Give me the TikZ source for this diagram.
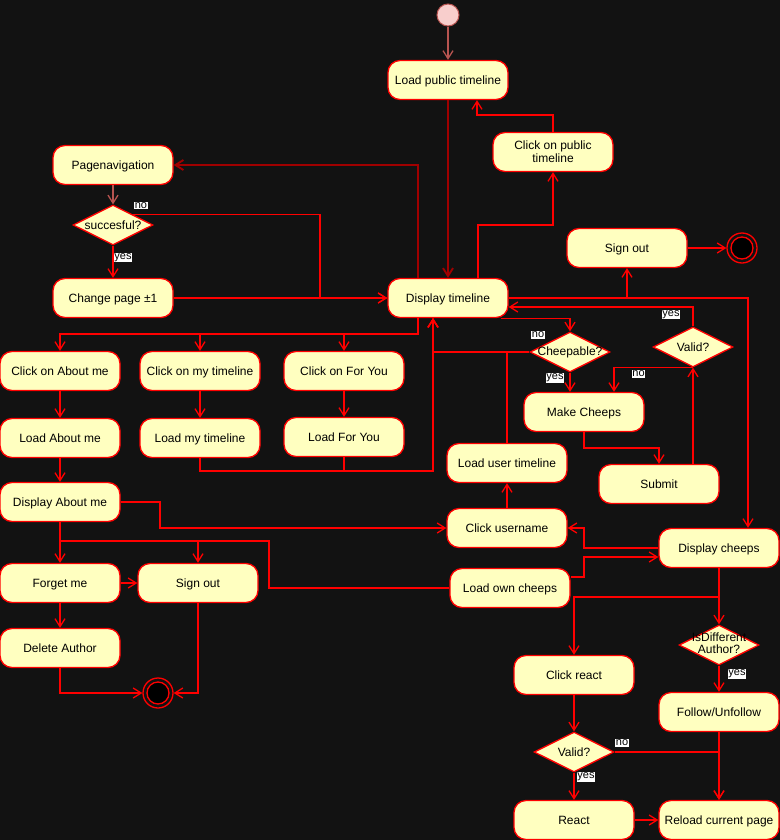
\documentclass[tikz,border=0pt]{standalone}
\usepackage{fontspec}
\setmainfont{Liberation Sans}
\usetikzlibrary{shapes.geometric,arrows.meta,calc}
\definecolor{bgc}{HTML}{121212}
\definecolor{nodefill}{HTML}{FFFFC0}
\definecolor{initfill}{HTML}{F8CECC}
\definecolor{initline}{HTML}{B85450}
\definecolor{darkline}{HTML}{A00000}
\tikzset{
  act/.style={draw=red, fill=nodefill, rounded corners=12bp, minimum width=120bp,
    minimum height=39bp, inner sep=2bp, font=\fontsize{12bp}{14bp}\selectfont,
    text=black, line width=1.3bp, align=center, text height=10bp, text depth=2bp},
  dec/.style={diamond, draw=red, fill=nodefill, minimum width=80bp, minimum height=40bp,
    inner sep=0pt, font=\fontsize{12bp}{14bp}\selectfont, text=black, line width=1.3bp},
  flow/.style={draw=red, line width=1.3bp, -{Straight Barb[length=8bp,width=10bp]}},
  flowd/.style={flow, draw=darkline, line width=1.9bp},
  flowb/.style={flow, draw=initline},
  plain/.style={draw=red, line width=1.3bp},
  lbl/.style={fill=white, text=black, inner sep=0.8bp, font=\fontsize{11bp}{12bp}\selectfont},
  finalnode/.style={circle, draw=red, line width=1.3bp, minimum size=30bp, inner sep=0pt},
  startnode/.style={circle, draw=initline, fill=initfill, line width=1bp, minimum size=22bp, inner sep=0pt}
}
\begin{document}
\begin{tikzpicture}[x=1bp,y=-1bp]
\useasboundingbox (0,0) rectangle (780,840);
\fill[bgc] (0,0) rectangle (780,840);

% nodes
\node[startnode] (init) at (448,15) {};
\node[act] (lpt) at (448,80) {Load public timeline};
\node[act, text height=, text depth=] (cpt) at (553,152) {\raisebox{0pt}[9bp][0bp]{Click on public}\\[-1bp]timeline};
\node[act] (pn) at (113,165) {Pagenavigation};
\node[dec] (succ) at (113,225) {\makebox[0pt]{succesful?}};
\node[act] (cp) at (113,298) {Change page ±1};
\node[act] (dt) at (448,298) {Display timeline};
\node[act] (so2) at (627,248) {Sign out};
\node[finalnode] (end2) at (742,248) {};
\node[act] (cam) at (60,371) {Click on About me};
\node[act] (cmt) at (200,371) {Click on my timeline};
\node[act] (cfy) at (344,371) {Click on For You};
\node[act] (lam) at (60,438) {Load About me};
\node[act] (lmt) at (200,438) {Load my timeline};
\node[act] (lfy) at (344,437) {Load For You};
\node[act] (dam) at (60,502) {Display About me};
\node[act] (fm) at (60,583) {Forget me};
\node[act] (so1) at (198,583) {Sign out};
\node[act] (da) at (60,648) {Delete Author};
\node[finalnode] (end1) at (158,693) {};
\node[dec] (ch) at (570,352) {\makebox[0pt]{Cheepable?}};
\node[dec] (v1) at (693,347) {\makebox[0pt]{Valid?}};
\node[act] (mc) at (584,412) {Make Cheeps};
\node[act] (sub) at (659,484) {Submit};
\node[act] (lut) at (507,463) {Load user timeline};
\node[act] (cu) at (507,528) {Click username};
\node[act] (dc) at (719,548) {Display cheeps};
\node[act] (loc) at (510,588) {Load own cheeps};
\node[dec] (isd) at (719,645) {\makebox[0pt]{\begin{tabular}{@{}c@{}}IsDifferent\\[-2bp]Author?\end{tabular}}};
\node[act] (cr) at (574,675) {Click react};
\node[act] (fu) at (719,712) {Follow/Unfollow};
\node[dec] (v2) at (574,752) {\makebox[0pt]{Valid?}};
\node[act] (re) at (574,820) {React};
\node[act] (rcp) at (719,820) {Reload current page};
\fill[black] (end1.center) circle (11bp);
\draw[red, line width=1.3bp] (end1.center) circle (11bp);
\fill[black] (end2.center) circle (11bp);
\draw[red, line width=1.3bp] (end2.center) circle (11bp);

% edges
\draw[flowb] (init) -- (lpt);
\draw[flowd] (lpt) -- (dt);
\draw[flow] (cpt.north) |- (477,115) -- (477,0 |- lpt.south);
\draw[flow] (478,0 |- dt.north) |- (553,225) -- (cpt.south);
\draw[flowd] (418,0 |- dt.north) |- (pn.east);
\draw[flowb] (pn) -- (succ);
\draw[flow] (succ) -- (cp);
\draw[flow] (succ.north east) -- (320,0 |- succ.north east) -- (320,0 |- dt.west) -- (dt.west);
\draw[flow] (cp) -- (dt);
\draw[flow] (dt.east) -- (627,0 |- dt.east) -- (so2.south);
\draw[flow] (dt.east) -- (748,0 |- dt.east) -- (748,0 |- dc.north);
\draw[flow] (so2) -- (end2);
\draw[flow] (v1.north) |- (dt.east |- 0,307);
\draw[flow] (v1.south) -- (614,0 |- v1.south) -- (614,0 |- mc.north);
\draw[flow] (693,0 |- sub.north) -- (v1.south);
\draw[flow] (mc.south) |- (659,448) -- (sub.north);
\draw[flow] ([xshift=-8bp]dt.south east) -| (ch.north);
\draw[flow] (ch.south) -- (570,0 |- mc.north);
\draw[flow] (ch.west) -| (433,0 |- dt.south);
\draw[flow] (lut.north) |- (433,352) -- (433,0 |- dt.south);
\draw[flow] (lmt.south) |- (433,471) -- (433,0 |- dt.south);
\draw[flow] (lfy.south) |- (433,471) -- (433,0 |- dt.south);
\draw[flow] (418,0 |- dt.south) -- (418,334) -| (cam.north);
\draw[flow] (418,0 |- dt.south) -- (418,334) -| (cmt.north);
\draw[flow] (418,0 |- dt.south) -- (418,334) -| (cfy.north);
\draw[flow] (cam) -- (lam);
\draw[flow] (lam) -- (dam);
\draw[flow] (cmt) -- (lmt);
\draw[flow] (cfy) -- (lfy);
\draw[flow] (dam.east) -- (160,0 |- dam.east) |- (cu.west);
\draw[flow] (dam) -- (fm);
\draw[flow] (dam.south) -- (60,541) -| (so1.north);
\draw[plain] (dam.south) -- (60,541) -- (269,541) |- (loc.west);
\draw[flow] (loc.east |- 0,577) -- (584,577) -- (584,557) -- (dc.west |- 0,557);
\draw[flow] (dc.west) -- (584,0 |- dc.west) |- (cu.east);
\draw[flow] (cu) -- (lut);
\draw[flow] (dc) -- (isd);
\draw[flow] (dc.south) -- (719,597) -| (cr.north);
\draw[flow] (isd) -- (fu);
\draw[flow] (fu) -- (rcp);
\draw[flow] (cr) -- (v2);
\draw[flow] (v2.east) -- (719,0 |- v2.east) -- (rcp.north);
\draw[flow] (v2) -- (re);
\draw[flow] (re) -- (rcp);
\draw[flow] (fm) -- (so1);
\draw[flow] (fm) -- (da);
\draw[flow] (da.south) |- (end1.west);
\draw[flow] (so1.south) |- (end1.east);

% labels
\node[lbl] (l1) at (123,257.5) {yes};
\node[lbl] (l2) at (141,205.5) {no};
\node[lbl] (l3) at (671,314.5) {yes};
\node[lbl] (l4) at (638.5,374) {no};
\node[lbl] (l5) at (555,378) {yes};
\node[lbl] (l6) at (538,335) {no};
\node[lbl] (l7) at (737,674) {yes};
\node[lbl] (l8) at (622,743) {no};
\node[lbl] (l9) at (586,777) {yes};
\end{tikzpicture}
\end{document}
